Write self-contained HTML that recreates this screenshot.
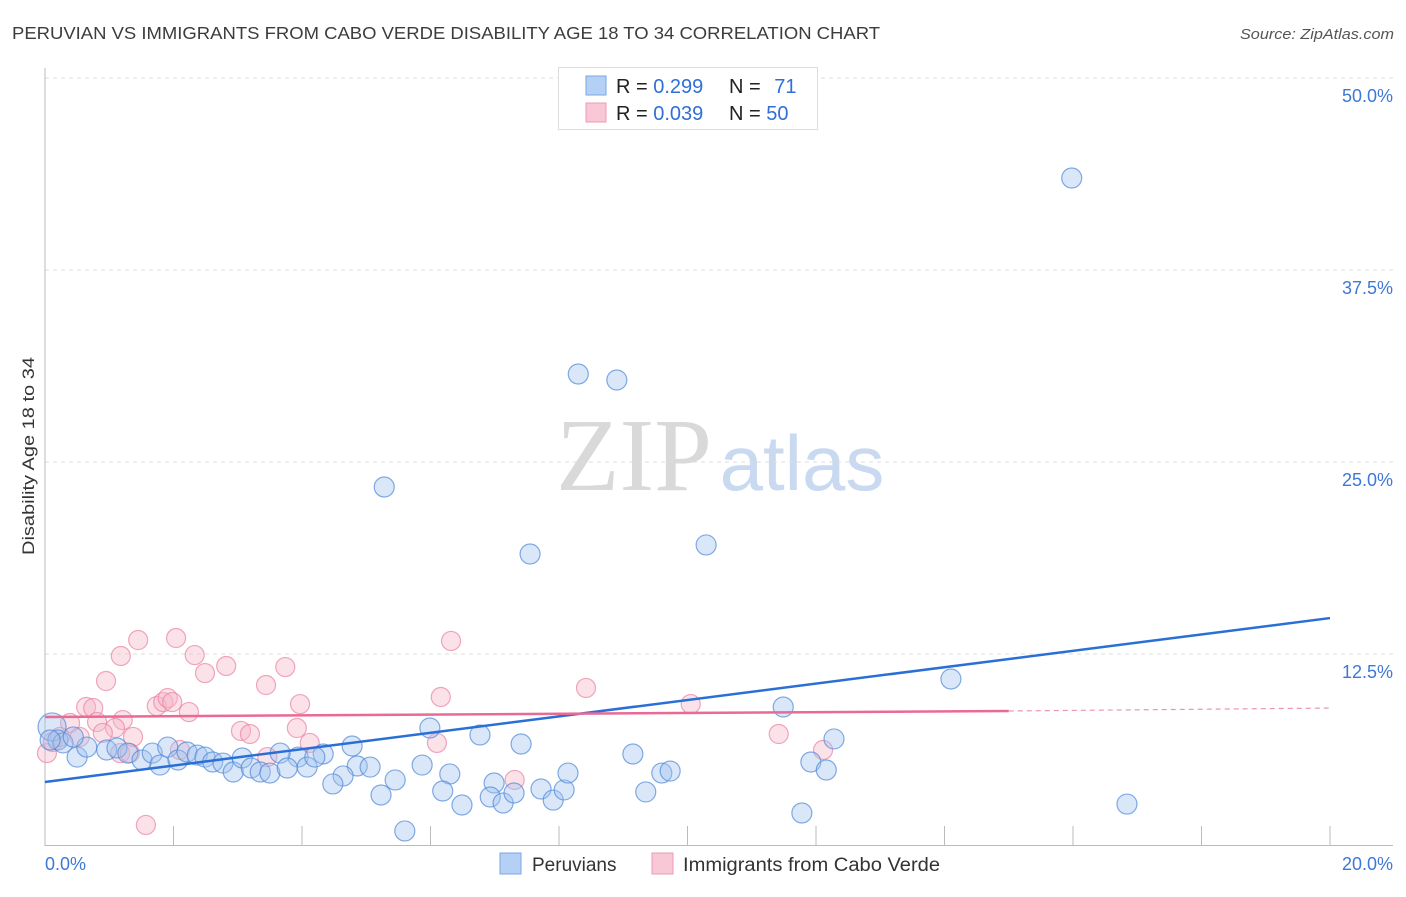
<!DOCTYPE html>
<html><head><meta charset="utf-8"><style>
body{margin:0;background:#fff;font-family:"Liberation Sans",sans-serif}
</style></head><body>
<svg id="chart" width="1406" height="892" xmlns="http://www.w3.org/2000/svg" style="font-family:'Liberation Sans',sans-serif">
<text x="12" y="39" font-size="17.5" fill="#3c3c3c" textLength="868" lengthAdjust="spacingAndGlyphs">PERUVIAN VS IMMIGRANTS FROM CABO VERDE DISABILITY AGE 18 TO 34 CORRELATION CHART</text>
<text x="1394" y="39" font-size="15" fill="#555" font-style="italic" text-anchor="end" textLength="154" lengthAdjust="spacingAndGlyphs">Source: ZipAtlas.com</text>
<text x="34" y="456" font-size="17" fill="#333" text-anchor="middle" transform="rotate(-90 34 456)" textLength="198" lengthAdjust="spacingAndGlyphs">Disability Age 18 to 34</text>
<g>
<text x="634" y="490" font-size="104" fill="#d9d9d9" font-family="Liberation Serif,serif" text-anchor="middle">ZIP</text>
<text x="802" y="490" font-size="78" fill="#c8d9f0" text-anchor="middle">atlas</text>
</g>
<g id="grid"></g>
<g id="axes"></g>
<g id="pts"></g>
<g id="lines"></g>
<g>
<rect x="558.5" y="67.5" width="259" height="62" fill="#fff" stroke="#ddd"/>
<rect x="586" y="76" width="20" height="19" fill="#b5d0f5" stroke="#7aa6e6"/>
<rect x="586" y="103" width="20" height="19" fill="#f8c8d6" stroke="#ec9ab3"/>
<text x="616" y="93" font-size="20" fill="#222">R = <tspan fill="#2f6fd6">0.299</tspan></text>
<text x="729" y="93" font-size="20" fill="#222">N = <tspan fill="#2f6fd6" dx="8">71</tspan></text>
<text x="616" y="120" font-size="20" fill="#222">R = <tspan fill="#2f6fd6">0.039</tspan></text>
<text x="729" y="120" font-size="20" fill="#222">N = <tspan fill="#2f6fd6">50</tspan></text>
</g>
<g>
<rect x="500" y="853" width="21" height="21" fill="#b5d0f5" stroke="#7aa6e6"/>
<text x="532" y="871" font-size="19" fill="#333">Peruvians</text>
<rect x="652" y="853" width="21" height="21" fill="#f8c8d6" stroke="#ec9ab3"/>
<text x="683" y="871" font-size="19" fill="#333" textLength="257" lengthAdjust="spacingAndGlyphs">Immigrants from Cabo Verde</text>
</g>
</svg>
<script>
const xTicks=[0,20];
const yTicks=[12.5,25,37.5,50];
const yTickLabels=["12.5%","25.0%","37.5%","50.0%"];
const blueX=[15.98,8.30,8.90,5.28,7.55,10.29,14.10,11.49,12.28,11.92,12.16,16.84,11.78,5.60,5.99,6.77,7.41,4.78,3.94,4.33,4.86,5.06,4.64,4.48,5.23,5.45,5.87,6.30,6.19,6.49,6.99,6.93,7.13,7.30,7.72,7.91,8.08,8.14,9.15,9.35,9.60,9.73,0.11,0.20,0.50,0.65,0.96,1.12,1.29,1.51,1.67,1.79,1.91,2.07,2.21,2.37,2.49,2.61,2.77,2.93,3.07,3.21,3.35,3.50,3.66,3.77,4.08,4.20,0.28,0.08,0.44];
const blueY=[43.49,30.73,30.34,23.37,19.01,19.60,10.87,9.05,6.97,5.47,4.95,2.73,2.15,0.98,7.68,7.23,6.64,6.51,5.79,5.99,5.21,5.14,4.56,4.04,3.32,4.30,5.27,4.69,3.58,2.67,4.10,3.19,2.80,3.45,3.71,2.99,3.65,4.75,5.99,3.52,4.75,4.88,7.75,6.90,5.79,6.44,6.25,6.38,6.05,5.60,6.05,5.27,6.44,5.60,6.12,5.92,5.79,5.47,5.40,4.82,5.73,5.08,4.82,4.75,6.05,5.08,5.14,5.79,6.71,6.90,7.10];
const pinkX=[1.45,2.04,1.18,2.33,2.49,2.82,3.74,3.44,0.95,3.97,0.64,0.75,1.74,1.84,1.91,1.98,2.24,1.21,0.39,0.81,1.09,0.90,0.54,3.05,3.19,3.92,4.12,1.37,2.10,1.17,1.32,3.46,6.32,6.16,6.10,7.31,1.57,0.03,0.12,0.23,8.42,10.05,11.42,12.11];
const pinkY=[13.41,13.54,12.37,12.43,11.26,11.72,11.65,10.48,10.74,9.24,9.05,8.98,9.11,9.37,9.63,9.37,8.72,8.20,8.01,8.07,7.68,7.36,7.10,7.49,7.29,7.68,6.71,7.10,6.25,6.05,6.05,5.79,13.35,9.70,6.71,4.30,1.37,6.05,6.77,7.10,10.29,9.24,7.29,6.25];
const blueTrend=[4.17,14.84];
const pinkTrend=[8.40,8.79,8.98];
const X0=45,X1=1330,Y0=846,YS=768/50;
const sx=v=>X0+(v-xTicks[0])/(xTicks[1]-xTicks[0])*(X1-X0);
const sy=v=>Y0-v*YS;
const NS="http://www.w3.org/2000/svg";
function mk(tag,attrs,parent){const e=document.createElementNS(NS,tag);for(const k in attrs)e.setAttribute(k,attrs[k]);document.getElementById(parent).appendChild(e);return e;}
yTicks.forEach((t,i)=>{
 const g=mk('line',{x1:45,x2:1393,y1:sy(t),y2:sy(t),stroke:'#ddd','stroke-dasharray':'4 4'},'grid');
 
 
 const l=mk('text',{x:1393,y:sy(t)+24,'font-size':18,fill:'#3e78d6','text-anchor':'end'},'grid');
 l.textContent=yTickLabels[i];
 
 
});
mk('line',{x1:45,x2:45,y1:68,y2:846,stroke:'#bbb'},'axes');
mk('line',{x1:45,x2:1393,y1:845.5,y2:845.5,stroke:'#bbb'},'axes');
for(let i=1;i<=10;i++){const x=X0+i*(X1-X0)/10;const t=mk('line',{x1:x,x2:x,y1:826,y2:846,stroke:'#bbb'},'axes');
 
 }
const xl0=mk('text',{x:45,y:870,'font-size':18,fill:'#3e78d6'},'axes');xl0.textContent=xTicks[0].toFixed(1)+'%';


const xl1=mk('text',{x:1393,y:870,'font-size':18,fill:'#3e78d6','text-anchor':'end'},'axes');xl1.textContent=xTicks[1].toFixed(1)+'%';


pinkX.forEach((v,i)=>{const c=mk('circle',{cx:sx(v),cy:sy(pinkY[i]),r:9.5,fill:'rgba(246,182,201,0.4)',stroke:'rgba(234,130,163,0.7)','stroke-width':1.2},'pts');
 
 });
blueX.forEach((v,i)=>{const c=mk('circle',{cx:sx(v),cy:sy(blueY[i]),r:i==42?14:10,fill:'rgba(160,195,240,0.4)',stroke:'rgba(80,135,215,0.7)','stroke-width':1.2},'pts');
 
 });
const bl=mk('line',{x1:sx(0),y1:sy(blueTrend[0]),x2:sx(20),y2:sy(blueTrend[1]),stroke:'#2a6fd6','stroke-width':2.5},'lines');


const pl=mk('line',{x1:sx(0),y1:sy(pinkTrend[0]),x2:sx(15),y2:sy(pinkTrend[1]),stroke:'#e96a94','stroke-width':2.5},'lines');


const pd=mk('line',{x1:sx(15),y1:sy(pinkTrend[1]),x2:sx(20),y2:sy(pinkTrend[2]),stroke:'#e996b0','stroke-width':1.2,'stroke-dasharray':'5 4'},'lines');


</script>
</body></html>
